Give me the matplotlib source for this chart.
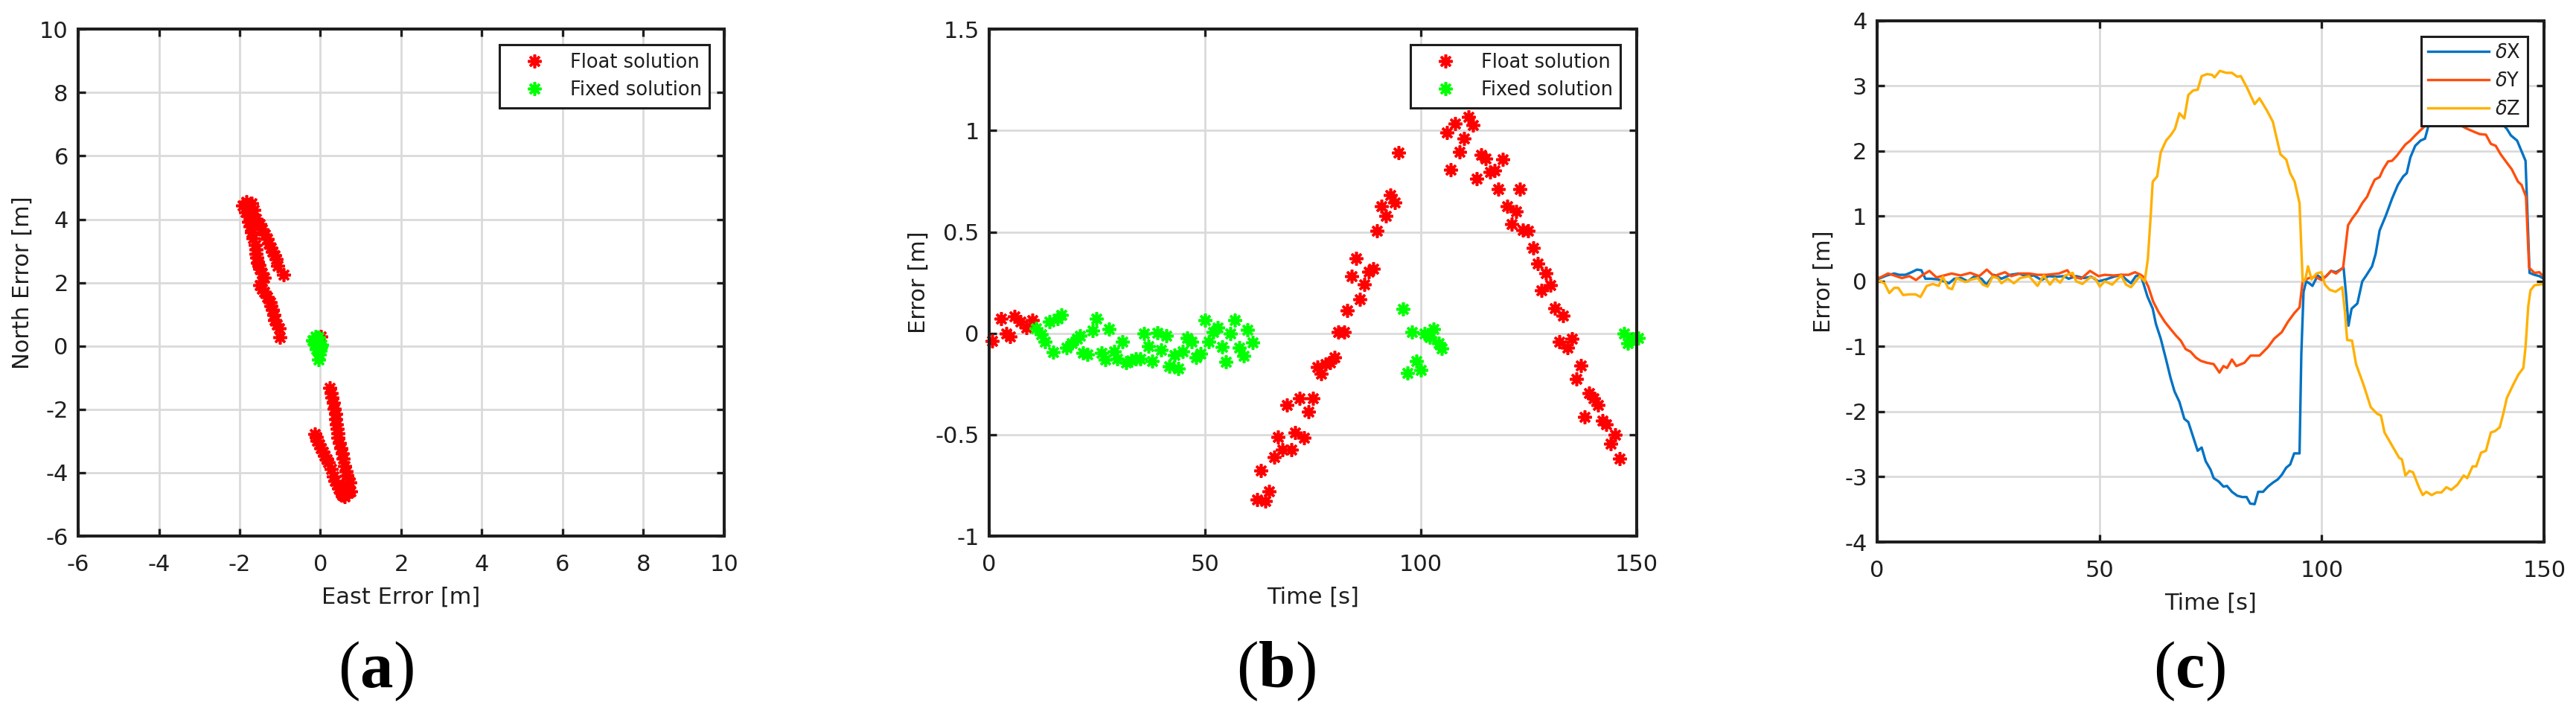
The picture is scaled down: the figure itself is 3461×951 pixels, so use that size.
import matplotlib
matplotlib.use("Agg")
import matplotlib.pyplot as plt
from matplotlib.ticker import FuncFormatter

plt.rcParams['font.family'] = ['DejaVu Sans']
plt.rcParams['axes.unicode_minus'] = False
plt.rcParams['mathtext.fontset'] = 'custom'
plt.rcParams['mathtext.rm'] = 'Liberation Serif'
plt.rcParams['mathtext.bf'] = 'Liberation Serif:bold'
plt.rcParams['mathtext.it'] = 'DejaVu Sans:italic'

# ---------------- data: panel (a) ----------------
a_float_east = [-1.93, -1.83, -1.71, -1.86, -1.68, -1.77, -1.59, -1.80, -1.65,
                -1.77, -1.74, -1.71, -1.66, -1.62, -1.60, -1.59, -1.57, -1.56, -1.52,
                -1.50, -1.45, -1.40, -1.45, -1.50, -1.45, -1.40, -1.32, -1.25, -1.22,
                -1.19, -1.16, -1.13, -1.08, -1.03, -1.00,
                -1.50, -1.44, -1.37, -1.32, -1.28, -1.23, -1.19, -1.14, -1.10, -1.06, -0.91,
                0.01,
                0.23, 0.26, 0.29, 0.32, 0.35, 0.37, 0.38, 0.40, 0.42, 0.43, 0.44, 0.47,
                0.50, 0.54, 0.57, 0.60, 0.63, 0.66, 0.70, 0.72, 0.75,
                -0.14, -0.11, -0.08, -0.03, 0.01, 0.06, 0.10, 0.15, 0.20, 0.26, 0.32,
                0.36, 0.41, 0.46, 0.50, 0.55, 0.60, 0.69, 0.54, 0.65]
a_float_north = [4.43, 4.55, 4.51, 4.22, 4.14, 4.10, 4.02, 4.35, 4.30,
                 3.93, 3.78, 3.60, 3.40, 3.19, 3.05, 2.91, 2.78, 2.62, 2.55,
                 2.45, 2.30, 2.16, 2.05, 1.92, 1.80, 1.71, 1.55, 1.38, 1.26,
                 1.14, 0.98, 0.81, 0.68, 0.56, 0.27,
                 3.85, 3.68, 3.52, 3.38, 3.23, 3.10, 2.99, 2.86, 2.74, 2.53, 2.25,
                 0.31,
                 -1.33, -1.48, -1.62, -1.80, -1.99, -2.15, -2.32, -2.47, -2.61, -2.75, -2.90, -3.06,
                 -3.23, -3.40, -3.56, -3.80, -3.95, -4.09, -4.20, -4.30, -4.58,
                 -2.77, -2.88, -2.98, -3.10, -3.23, -3.35, -3.47, -3.58, -3.68, -3.88, -4.13,
                 -4.25, -4.38, -4.50, -4.63, -4.70, -4.75, -4.63, -4.46, -4.45]
a_fixed_east = [-0.20, -0.14, -0.05, 0.01, -0.11, -0.02, -0.05, -0.17, -0.08, 0.03, -0.12, 0.00]
a_fixed_north = [0.19, 0.07, 0.27, -0.02, -0.10, -0.26, -0.43, 0.15, 0.22, 0.05, 0.30, -0.15]

# ---------------- data: panel (b) ----------------
b_float_t = [0.7, 2.8, 3.9, 4.8, 5.9, 7.3, 8.7, 10,
             62, 62.9, 64, 64.8, 66, 66.9, 68, 69, 70, 70.9, 71.9, 72.9, 73.9, 75, 76,
             76.9, 78, 79, 80, 80.9, 82.2, 83, 84, 85, 85.9, 86.9, 87.9, 88.9, 89.9,
             90.9, 91.9, 92.9, 93.9, 94.9,
             106.1, 106.9, 108, 109, 110, 111, 112, 113, 114, 115, 116, 117, 117.9, 119,
             120, 121, 122, 123, 123.6, 124.9, 126.1, 127, 128, 129, 130, 131, 132, 133,
             134, 135, 136, 137, 137.9, 139, 140, 141, 142, 143, 143.9, 145, 146]
b_float_err = [-0.037, 0.074, 0.0, -0.015, 0.083, 0.058, 0.03, 0.065,
               -0.82, -0.677, -0.827, -0.778, -0.61, -0.511, -0.574, -0.353, -0.574, -0.49,
               -0.319, -0.515, -0.388, -0.319, -0.167, -0.2, -0.15, -0.146, -0.118, 0.006,
               0.008, 0.114, 0.28, 0.37, 0.167, 0.243, 0.303, 0.32, 0.507, 0.626, 0.581,
               0.683, 0.647, 0.893,
               0.99, 0.806, 1.034, 0.896, 0.963, 1.069, 1.027, 0.763, 0.879, 0.862, 0.795,
               0.805, 0.713, 0.858, 0.626, 0.538, 0.601, 0.711, 0.51, 0.507, 0.423, 0.346,
               0.212, 0.296, 0.237, 0.125, -0.041, 0.086, -0.072, -0.027, -0.226, -0.16,
               -0.413, -0.294, -0.322, -0.353, -0.431, -0.448, -0.546, -0.501, -0.617]
b_fixed_t = [10.8, 12, 12.9, 13.9, 14.8, 15.8, 16.8, 17.9, 19.1, 20.3, 21, 21.7, 22.8,
             23.9, 24.9, 26, 26.9, 27.8, 28.9, 29.7, 30.9, 31.8, 32.9, 34, 35, 35.9, 36.9,
             37.8, 38.9, 39.9, 41, 41.8, 42.9, 43.8, 44.9, 45.9, 46.9, 47.9, 49, 50, 50.9,
             51.9, 52.9, 53.9, 54.9, 55.9, 56.9, 57.9, 58.9, 59.9, 61,
             95.8, 96.9, 97.9, 99, 100, 100.9, 102, 103, 104.1, 104.9,
             147, 148, 149.1, 150.3]
b_fixed_err = [0.025, -0.006, -0.04, 0.058, -0.094, 0.072, 0.09, -0.072, -0.048, -0.027,
               -0.013, -0.097, -0.104, 0.015, 0.072, -0.097, -0.13, 0.022, -0.09, -0.125,
               -0.04, -0.146, -0.132, -0.125, -0.125, 0.0, -0.062, -0.136, 0.004, -0.083,
               -0.013, -0.163, -0.108, -0.174, -0.09, -0.024, -0.04, -0.118, -0.1, 0.065,
               -0.04, 0.008, 0.03, -0.066, -0.139, 0.0, 0.065, -0.069, -0.111, 0.018, -0.044,
               0.121, -0.195, 0.008, -0.136, -0.181, 0.0, -0.02, 0.022, -0.048, -0.076,
               0.0, -0.048, -0.027, -0.024]

# ---------------- data: panel (c) ----------------
dx_t = [0, 0.8, 2.2, 3.9, 5, 6.4, 7.8, 9, 10, 10.9, 12.3, 13.7, 15.1, 16.2, 17.4, 19, 20.4,
        21.8, 23.5, 24.6, 26.3, 28, 30, 31.9, 33.6, 35.3, 37, 38.6, 40.3, 42, 43.1, 44.8,
        46.5, 48.2, 49.8, 51.5, 53.2, 54.9, 56, 57.1, 58.2, 59.3, 59.9, 60.8, 61.3, 62,
        62.7, 63.8, 65, 66, 66.9, 68, 69.1, 70, 71.1, 72.1, 73, 73.9, 75, 75.7, 76.8,
        77.9, 78.7, 79.8, 81, 82.1, 83.1, 83.9, 84.9, 85.7, 86.8, 87.9, 89, 90.1, 91, 92,
        92.9, 93.8, 95, 95.4, 95.9, 96.5, 97.2, 97.9, 99.1, 100, 101, 102.1, 103.2, 104.9,
        105.5, 106, 106.7, 108, 109.1, 109.9, 111.3, 112.1, 113, 114.4, 115.8, 117.1,
        118.3, 119.1, 119.9, 121, 122.2, 123.2, 124.1, 125.5, 127, 129, 131, 133, 135,
        137, 139, 140.5, 141.6, 142.5, 143.9, 144.7, 145.8, 146.7, 147.8, 148.9, 149.9]
dx_val = [0.03, 0.05, 0.09, 0.12, 0.10, 0.10, 0.14, 0.18, 0.17, 0.04, 0.04, 0.03, 0.0,
          -0.03, 0.04, 0.05, 0.0, 0.07, 0.04, -0.05, 0.10, 0.04, 0.10, 0.12, 0.08, 0.09,
          0.02, 0.08, 0.07, 0.08, 0.04, 0.08, 0.05, 0.07, 0.0, 0.03, 0.07, 0.10, 0.03,
          -0.03, 0.08, 0.09, -0.03, -0.23, -0.31, -0.42, -0.65, -0.88, -1.20, -1.48, -1.69,
          -1.85, -2.11, -2.16, -2.39, -2.60, -2.55, -2.76, -2.89, -3.02, -3.07, -3.15,
          -3.14, -3.23, -3.29, -3.31, -3.31, -3.41, -3.42, -3.23, -3.23, -3.15, -3.09,
          -3.04, -2.97, -2.86, -2.81, -2.64, -2.64, -1.12, -0.16, 0.0, -0.03, -0.07, 0.09,
          0.04, 0.08, 0.16, 0.14, 0.21, -0.23, -0.68, -0.42, -0.34, 0.0, 0.08, 0.23, 0.42,
          0.78, 1.01, 1.27, 1.48, 1.61, 1.66, 1.90, 2.08, 2.16, 2.19, 2.42, 2.50, 2.60,
          2.68, 2.70, 2.70, 2.68, 2.60, 2.50, 2.42, 2.34, 2.24, 2.16, 2.03, 1.85, 0.13,
          0.10, 0.08, 0.04]
dy_t = [0, 0.8, 2.5, 3.9, 5.6, 7.3, 8.8, 10.1, 11.8, 13.4, 15.1, 16.8, 18.8, 21, 23, 24.7,
        26.3, 28.8, 30.2, 32.2, 34.2, 36.1, 38.1, 40.9, 42.8, 43.7, 45.9, 47.9, 49.8,
        51.2, 53.2, 54.9, 56.6, 58, 59.3, 59.9, 61, 62.1, 63.3, 64.7, 66.1, 67.2, 68.3,
        69.4, 70.5, 71.7, 72.8, 74.2, 75.7, 77, 77.9, 78.7, 79.8, 80.8, 82.6, 84, 86,
        87.9, 89.3, 91, 92.4, 93.8, 95, 95.7, 97.1, 98.5, 100, 101, 102.1, 103.2, 104.8,
        105.9, 106.8, 108, 109.1, 110.2, 111, 111.9, 113, 113.8, 114.9, 115.8, 116.9,
        118, 118.8, 119.9, 121, 122.2, 123.3, 125, 127, 129.5, 131, 132.7, 134.4, 135.5,
        136.9, 138, 139.1, 140.2, 141.6, 142.7, 144.1, 144.9, 145.9, 146.6, 147.8,
        148.9, 149.9]
dy_val = [0.05, 0.06, 0.12, 0.09, 0.05, 0.08, 0.02, 0.09, 0.16, 0.06, 0.09, 0.12, 0.09,
          0.13, 0.08, 0.18, 0.08, 0.14, 0.08, 0.12, 0.12, 0.10, 0.10, 0.12, 0.17, 0.08,
          0.04, 0.16, 0.08, 0.10, 0.09, 0.10, 0.10, 0.14, 0.10, 0.07, -0.08, -0.31, -0.47,
          -0.62, -0.74, -0.83, -0.91, -1.04, -1.08, -1.17, -1.22, -1.25, -1.27, -1.40,
          -1.30, -1.33, -1.20, -1.30, -1.25, -1.14, -1.14, -1.01, -0.88, -0.78, -0.62,
          -0.49, -0.40, 0.0, 0.05, 0.07, 0.02, 0.08, 0.16, 0.12, 0.21, 0.86, 0.96, 1.07,
          1.20, 1.30, 1.43, 1.56, 1.60, 1.72, 1.84, 1.85, 1.93, 2.03, 2.10, 2.16, 2.24,
          2.32, 2.39, 2.44, 2.47, 2.45, 2.40, 2.34, 2.29, 2.26, 2.25, 2.11, 2.08, 1.95,
          1.82, 1.72, 1.53, 1.48, 1.30, 0.21, 0.13, 0.14, 0.07]
dz_t = [0, 0.8, 1.7, 2.8, 3.9, 4.8, 5.9, 7.3, 8.7, 9.8, 11.2, 12.6, 13.9, 14.8, 16, 16.9,
        17.9, 19.9, 21.3, 22.7, 23.8, 24.9, 26, 27.2, 28, 29.4, 30.8, 32.2, 34.2, 36.1,
        37.5, 38.9, 40, 41.2, 42.3, 44, 44.8, 46.2, 47.9, 49, 50.1, 51.2, 52.9, 54.9, 56,
        57.1, 59.1, 60.2, 60.9, 61.5, 62, 63, 63.8, 65, 66, 67, 68, 69.1, 70, 71.1, 72.1,
        73, 74.2, 75.3, 75.9, 77.1, 78.5, 79.8, 81, 81.8, 83.2, 84.9, 86, 87.6, 89, 90.7,
        92, 92.9, 93.9, 95, 95.7, 96.3, 96.9, 97.7, 98.8, 99.9, 100.7, 101.8, 103.1,
        104.6, 105.2, 105.7, 106.8, 107.7, 109.4, 111, 112.4, 113.3, 114.1, 115.8, 117.4,
        118, 118.8, 119.7, 120.5, 121.9, 122.7, 123.5, 124.7, 125.8, 126.9, 128, 129.1,
        130.5, 131.9, 132.7, 133.9, 134.7, 135.8, 136.9, 138, 138.9, 140, 140.8, 141.6,
        143, 144.2, 145.3, 145.8, 146.4, 146.9, 147.8, 148.9, 149.9]
dz_val = [0.0, 0.0, -0.03, -0.18, -0.10, -0.10, -0.21, -0.20, -0.20, -0.24, -0.07, -0.04,
          -0.07, 0.07, -0.10, -0.12, 0.05, -0.01, 0.03, 0.05, -0.05, -0.08, 0.07, 0.05,
          -0.03, 0.04, -0.03, 0.05, 0.08, -0.07, 0.09, -0.05, 0.05, -0.02, 0.09, 0.13,
          0.0, -0.04, 0.06, 0.05, -0.08, 0.0, -0.05, 0.09, -0.05, -0.09, 0.08, 0.0, 0.34,
          0.96, 1.53, 1.61, 1.98, 2.16, 2.24, 2.34, 2.58, 2.50, 2.86, 2.93, 2.94, 3.15,
          3.18, 3.17, 3.13, 3.23, 3.20, 3.20, 3.14, 3.15, 2.97, 2.72, 2.81, 2.63, 2.45,
          1.95, 1.87, 1.66, 1.53, 1.20, 0.0, 0.03, 0.23, 0.03, 0.12, 0.14, -0.05, -0.13,
          -0.16, -0.09, -0.47, -0.90, -0.91, -1.27, -1.59, -1.93, -2.03, -2.06, -2.32,
          -2.52, -2.71, -2.73, -2.98, -2.91, -2.93, -3.17, -3.28, -3.23, -3.28, -3.24,
          -3.24, -3.16, -3.20, -3.12, -2.98, -3.02, -2.84, -2.84, -2.63, -2.60, -2.32,
          -2.30, -2.24, -2.03, -1.79, -1.59, -1.43, -1.33, -1.01, -0.39, -0.14, -0.06,
          -0.05, -0.04]

legend_ab = ['Float solution', 'Fixed solution']
legend_c = [r'$\delta$X', r'$\delta$Y', r'$\delta$Z']
panel_labels = ['a', 'b', 'c']

RED = '#FF0000'
GREEN = '#00FF00'
C_X = '#0072C4'
C_Y = '#FF4E0C'
C_Z = '#FFB000'
TXT = '#1E1E1E'

fig = plt.figure(figsize=(34.62, 9.51), dpi=100)

ax_a = fig.add_axes([0.03033, 0.24290, 0.25072, 0.71577])
ax_b = fig.add_axes([0.38388, 0.24290, 0.25130, 0.71577])
ax_c = fig.add_axes([0.72840, 0.23449, 0.25898, 0.73628])

fmt = FuncFormatter(lambda v, p: '%g' % v)


def style(ax):
    for s in ax.spines.values():
        s.set_linewidth(2.9)
        s.set_color(TXT)
    ax.tick_params(direction='in', length=7.5, width=2.4, top=True, right=True,
                   labelsize=22, colors=TXT)
    ax.tick_params(axis='x', pad=17)
    ax.tick_params(axis='y', pad=9.5)
    ax.grid(True, color='#DADADA', linewidth=2.0)
    ax.set_axisbelow(True)
    ax.xaxis.set_major_formatter(fmt)
    ax.yaxis.set_major_formatter(fmt)


mk = dict(marker=(8, 2, 0), markersize=13, markeredgewidth=2.6, linestyle='none',
          clip_on=False)

# (a)
ax_a.plot(a_float_east, a_float_north, color=RED, markeredgecolor=RED, label=legend_ab[0], **mk)
ax_a.plot(a_fixed_east, a_fixed_north, color=GREEN, markeredgecolor=GREEN, label=legend_ab[1], **mk)
ax_a.set_xlim(-6, 10)
ax_a.set_ylim(-6, 10)
ax_a.set_xticks(range(-6, 11, 2))
ax_a.set_yticks(range(-6, 11, 2))
style(ax_a)
ax_a.set_xlabel('East Error [m]', fontsize=22, color=TXT, labelpad=10.5)
ax_a.set_ylabel('North Error [m]', fontsize=22, color=TXT)
ax_a.yaxis.label.set_verticalalignment('center')
ax_a.yaxis.set_label_coords(-0.0864, 0.5)

# (b)
ax_b.plot(b_float_t, b_float_err, color=RED, markeredgecolor=RED, label=legend_ab[0], **mk)
ax_b.plot(b_fixed_t, b_fixed_err, color=GREEN, markeredgecolor=GREEN, label=legend_ab[1], **mk)
ax_b.set_xlim(0, 150)
ax_b.set_ylim(-1, 1.5)
ax_b.set_xticks([0, 50, 100, 150])
ax_b.set_yticks([-1, -0.5, 0, 0.5, 1, 1.5])
style(ax_b)
ax_b.set_xlabel('Time [s]', fontsize=22, color=TXT, labelpad=10.5)
ax_b.set_ylabel('Error [m]', fontsize=22, color=TXT)
ax_b.yaxis.label.set_verticalalignment('center')
ax_b.yaxis.set_label_coords(-0.109, 0.5)

# (c)
ax_c.plot(dx_t, dx_val, color=C_X, linewidth=2.4, label=legend_c[0])
ax_c.plot(dy_t, dy_val, color=C_Y, linewidth=2.4, label=legend_c[1])
ax_c.plot(dz_t, dz_val, color=C_Z, linewidth=2.4, label=legend_c[2])
ax_c.set_xlim(0, 150)
ax_c.set_ylim(-4, 4)
ax_c.set_xticks([0, 50, 100, 150])
ax_c.set_yticks(range(-4, 5))
style(ax_c)
ax_c.set_xlabel('Time [s]', fontsize=22, color=TXT, labelpad=10.5)
ax_c.set_ylabel('Error [m]', fontsize=22, color=TXT)
ax_c.yaxis.label.set_verticalalignment('center')
ax_c.yaxis.set_label_coords(-0.080, 0.5)

leg_kw = dict(loc='upper right', borderaxespad=0, fancybox=False, framealpha=1,
              edgecolor=TXT, fontsize=18.5, numpoints=1)
for ax, xa in ((ax_a, 0.977), (ax_b, 0.9747)):
    lg = ax.legend(bbox_to_anchor=(xa, 0.969), borderpad=0.4, labelspacing=0.45,
                   handlelength=2.9, handletextpad=0.4, **leg_kw)
    lg.get_frame().set_linewidth(2.2)
    for t in lg.get_texts():
        t.set_color(TXT)
lg = ax_c.legend(bbox_to_anchor=(0.975, 0.970), borderpad=0.35, labelspacing=0.48,
                 handlelength=3.2, handletextpad=0.31, **leg_kw)
lg.get_frame().set_linewidth(2.2)
for t in lg.get_texts():
    t.set_color(TXT)

for lab, xc in zip(panel_labels, (505, 1714, 2941)):
    fig.text(xc / 3462, 1 - 901 / 951, r'$(\mathbf{%s})$' % lab, fontsize=64,
             ha='center', va='center', color='black')

fig.savefig('out.png', dpi=100, facecolor='white')
